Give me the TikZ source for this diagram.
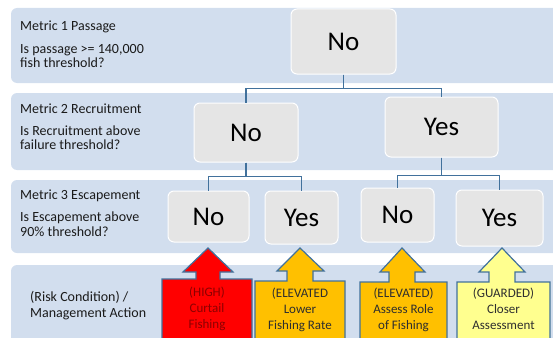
\documentclass[tikz,border=0pt]{standalone}
\usepackage{fontspec}
\setmainfont{Carlito}
\definecolor{bandblue}{HTML}{D2DEEE}
\definecolor{linkblue}{HTML}{41719C}
\definecolor{boxgray}{HTML}{E5E5E5}
\definecolor{labeltext}{HTML}{1A1A1A}
\definecolor{hired}{HTML}{FF0000}
\definecolor{hitext}{HTML}{8C0000}
\definecolor{elev}{HTML}{FFC000}
\definecolor{guard}{HTML}{FFFF8F}
\definecolor{atextc}{HTML}{2E2E2E}
\begin{document}
\begin{tikzpicture}[x=1pt,y=-1pt,
  band/.style={fill=bandblue, rounded corners=6pt},
  dbox/.style={fill=boxgray, draw=white, line width=1pt, rounded corners=6pt,
    font=\fontsize{27}{30}\selectfont, text=black, inner sep=0pt},
  lbl/.style={anchor=base west, inner sep=0pt, font=\fontsize{14}{16}\selectfont, text=labeltext},
  link/.style={draw=linkblue, line width=1.3pt},
  ashape/.style={draw=linkblue, line width=1.2pt, line join=miter},
  atext/.style={anchor=base, inner sep=0pt, font=\fontsize{13}{16}\selectfont, text=atextc},
]
\useasboundingbox (0,0) rectangle (553,337);
\clip (0,0) rectangle (553,337);

% bands
\fill[band] (11,8) rectangle (570,83);
\fill[band] (11,93) rectangle (570,170);
\fill[band] (11,180) rectangle (570,253);
\fill[band] (11,265) rectangle (570,360);

% band labels
\node[lbl] (m1) at (20,30.5) {Metric 1 Passage};
\node[lbl] (q1a) at (20,53.3) {Is passage >= 140,000};
\node[lbl] (q1b) at (20,67.7) {fish threshold?};
\node[lbl] (m2) at (20,113.3) {Metric 2 Recruitment};
\node[lbl] (q2a) at (20,135) {Is Recruitment above};
\node[lbl] (q2b) at (20,149.3) {failure threshold?};
\node[lbl] (m3) at (20,199) {Metric 3 Escapement};
\node[lbl] (q3a) at (20,221) {Is Escapement above};
\node[lbl] (q3b) at (20,236) {90\% threshold?};
\node[lbl] (r1) at (30,301) {(Risk Condition) /};
\node[lbl] (r2) at (30,317) {Management Action};

% decision boxes
\node[dbox, minimum width=105pt, minimum height=65pt] (top) at (343.5,41.5) {No};
\node[dbox, minimum width=104pt, minimum height=59pt] (l2no) at (246,132.5) {No};
\node[dbox, minimum width=113pt, minimum height=60pt] (l2yes) at (441.5,127) {Yes};
\node[dbox, minimum width=81pt, minimum height=51pt] (a) at (208.5,216.5) {No};
\node[dbox, minimum width=73pt, minimum height=53pt] (b) at (301.5,217.5) {Yes};
\node[dbox, minimum width=73pt, minimum height=54pt] (c) at (397.5,215) {No};
\node[dbox, minimum width=87pt, minimum height=56pt] (d) at (499.5,218) {Yes};

% connectors
\draw[link] (top.south) -- ++(0,14) -| (l2no.north);
\draw[link] (top.south) -- ++(0,14) -| (l2yes.north);
\draw[link] (l2no.south) -- ++(0,14) -| (a.north);
\draw[link] (l2no.south) -- ++(0,14) -| (b.north);
\draw[link] (l2yes.south) -- ++(0,18) -| (c.north);
\draw[link] (l2yes.south) -- ++(0,18) -| (d.north);

% action arrows
\draw[ashape, fill=hired] (162,345) -- (162,279) -- (196,279) -- (196,272) -- (183,272)
  -- (208,248) -- (233,272) -- (220,272) -- (220,279) -- (252,279) -- (252,345) -- cycle;
\draw[ashape, fill=elev] (255,345) -- (255,281) -- (287,281) -- (287,271) -- (277,271)
  -- (300,248) -- (324,271) -- (313,271) -- (313,281) -- (345,281) -- (345,345) -- cycle;
\draw[ashape, fill=elev] (360,345) -- (360,282) -- (389,282) -- (389,272) -- (380,272)
  -- (402,248) -- (425,272) -- (415,272) -- (415,282) -- (447,282) -- (447,345) -- cycle;
\draw[ashape, fill=guard] (457,345) -- (457,282) -- (489,282) -- (489,272) -- (479,272)
  -- (502,248) -- (525,272) -- (515,272) -- (515,282) -- (550,282) -- (550,345) -- cycle;

% action texts
\node[atext, text=hitext] (h1) at (207,296) {(HIGH)};
\node[atext, text=hitext] (h2) at (207,312.5) {Curtail};
\node[atext, text=hitext] (h3) at (207,328.5) {Fishing};
\node[atext] (e1) at (300,297) {(ELEVATED};
\node[atext] (e2) at (300,313.5) {Lower};
\node[atext] (e3) at (300,329) {Fishing Rate};
\node[atext] (f1) at (403.5,297) {(ELEVATED)};
\node[atext] (f2) at (403.5,313.5) {Assess Role};
\node[atext] (f3) at (403.5,329) {of Fishing};
\node[atext] (g1) at (503.5,297) {(GUARDED)};
\node[atext] (g2) at (503.5,313.5) {Closer};
\node[atext] (g3) at (503.5,329) {Assessment};
\end{tikzpicture}
\end{document}
